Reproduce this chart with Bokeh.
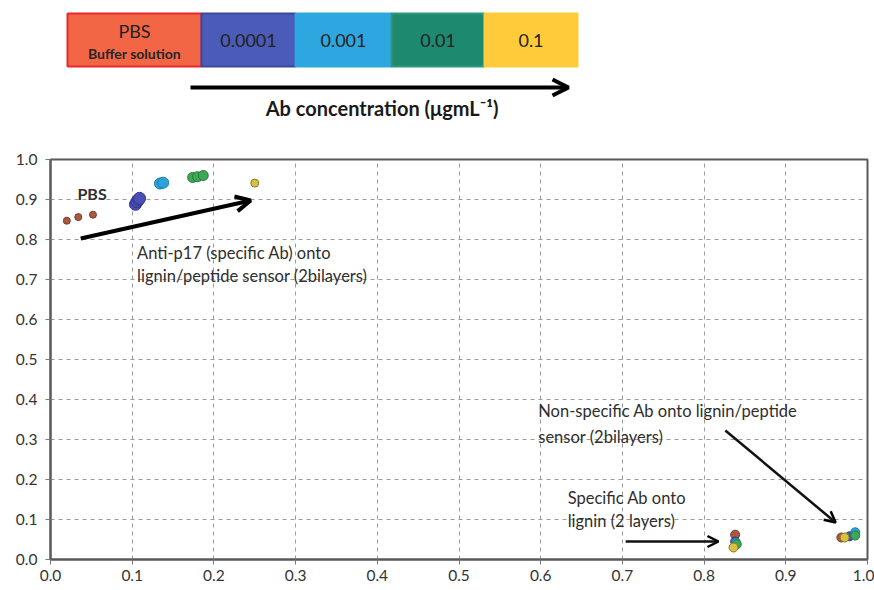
from bokeh.plotting import figure
from bokeh.layouts import column
from bokeh.models import (Range1d, FixedTicker, PrintfTickFormatter, Arrow, OpenHead,
                          ColumnDataSource, Label)
from bokeh.core.properties import value
from bokeh.embed import file_html
from bokeh.resources import INLINE

FONT = "Lato"

# ---------------- data ----------------
conc_labels = ["PBS", "0.0001", "0.001", "0.01", "0.1"]
conc_sub = ["Buffer solution", "", "", "", ""]
box_fill = ["#F26646", "#4A5BB8", "#2EA7E0", "#1D8A70", "#FFCB3A"]
box_line = ["#E8282A", "#3A48A0", "#2EA7E0", "#2A9A7A", "#FFCB3A"]
point_fill = ["#A85A40", "#4A4FB5", "#2AA3D8", "#3DA858", "#D8C048"]
point_line = ["#7A3A28", "#33378A", "#1A7FA8", "#2A7A3A", "#8A7A20"]

# anti-p17 onto lignin/peptide sensor (2 bilayers)
sens_x = [[0.020, 0.034, 0.052], [0.104, 0.106, 0.108, 0.109], [0.134, 0.138],
          [0.174, 0.180, 0.187], [0.250]]
sens_y = [[0.847, 0.856, 0.862], [0.888, 0.895, 0.900, 0.903], [0.940, 0.942],
          [0.955, 0.957, 0.960], [0.941]]
# specific Ab onto lignin (2 layers)
lig_x = [[0.838], [0.838], [0.839], [0.840], [0.836]]
lig_y = [[0.062], [0.045], [0.042], [0.038], [0.030]]
# non-specific Ab onto lignin/peptide sensor
nons_x = [[0.968], [0.978], [0.985], [0.985], [0.972]]
nons_y = [[0.055], [0.058], [0.068], [0.060], [0.055]]
point_size = [7, 12, 11, 10, 8]

x_ticks = [0.0, 0.1, 0.2, 0.3, 0.4, 0.5, 0.6, 0.7, 0.8, 0.9, 1.0]
y_ticks = [0.0, 0.1, 0.2, 0.3, 0.4, 0.5, 0.6, 0.7, 0.8, 0.9, 1.0]

W = 874
ML, MR = 50, 7

# ---------------- top legend strip ----------------
top = figure(width=W, height=140, x_range=Range1d(ML, W - MR), y_range=Range1d(140, 0),
             output_backend="svg", toolbar_location=None,
             min_border_left=ML, min_border_right=MR, min_border_top=0, min_border_bottom=0)
top.axis.visible = False
top.grid.visible = False
top.outline_line_color = None

edges = [67, 201, 295, 391, 484, 577]
lefts = edges[:-1]
rights = edges[1:]
cx = [(a + b) / 2 for a, b in zip(lefts, rights)]
src = ColumnDataSource(dict(left=lefts, right=rights, top=[13] * 5, bottom=[66] * 5,
                            fill=box_fill, line=box_line))
top.quad(left="left", right="right", top="top", bottom="bottom", fill_color="fill",
         line_color="line", line_width=2, source=src)
main_y = [30 if s else 40 for s in conc_sub]
src2 = ColumnDataSource(dict(x=cx, y=main_y, t=conc_labels))
top.text(x="x", y="y", text="t", source=src2, text_align="center", text_baseline="middle",
         text_font=value(FONT), text_font_size="18px", text_color="#222222")
src3 = ColumnDataSource(dict(x=cx, y=[53] * 5, t=conc_sub))
top.text(x="x", y="y", text="t", source=src3, text_align="center", text_baseline="middle",
         text_font=value(FONT), text_font_size="14px", text_color="#262626",
         text_font_style="bold")
top.add_layout(Arrow(end=OpenHead(size=16, line_width=4, line_color="black"),
                     x_start=190, y_start=87, x_end=568, y_end=87,
                     line_width=4, line_color="black"))
top.add_layout(Label(x=384, y=107, text="Ab concentration  (μgmL⁻¹)", text_align="center",
                     text_baseline="middle", text_font=FONT, text_font_size="20px",
                     text_font_style="bold", text_color="#1a1a1a"))

# ---------------- main chart ----------------
p = figure(width=W, height=450, x_range=Range1d(0, 1), y_range=Range1d(0, 1),
           output_backend="svg", toolbar_location=None,
           min_border_left=ML, min_border_right=MR, min_border_top=19, min_border_bottom=31)
p.background_fill_color = "white"
p.outline_line_color = "#595959"
p.outline_line_width = 2

for ax, ticks in ((p.xaxis, x_ticks), (p.yaxis, y_ticks)):
    ax.ticker = FixedTicker(ticks=ticks)
    ax.formatter = PrintfTickFormatter(format="%.1f")
    ax.major_label_text_font = FONT
    ax.major_label_text_font_size = "15.5px"
    ax.major_label_text_color = "#333333"
    ax.axis_line_color = "#595959"
    ax.axis_line_width = 2
    ax.major_tick_line_color = "#777777"
    ax.major_tick_in = 0
    ax.major_tick_out = 5
    ax.minor_tick_line_color = None
p.yaxis.major_label_standoff = 8

p.grid.grid_line_color = "#9a9a9a"
p.grid.grid_line_dash = "4 4"
p.grid.grid_line_width = 1
for g, ticks in ((p.xgrid, x_ticks), (p.ygrid, y_ticks)):
    g.ticker = FixedTicker(ticks=ticks)

# arrows
p.add_layout(Arrow(end=OpenHead(size=15, line_width=4, line_color="black"),
                   x_start=0.037, y_start=0.8025, x_end=0.245, y_end=0.8975,
                   line_width=4, line_color="black"))
p.add_layout(Arrow(end=OpenHead(size=11, line_width=2.5, line_color="black"),
                   x_start=0.826, y_start=0.3225, x_end=0.961, y_end=0.0925,
                   line_width=2.5, line_color="#111111"))
p.add_layout(Arrow(end=OpenHead(size=11, line_width=2.5, line_color="black"),
                   x_start=0.704, y_start=0.045, x_end=0.8176, y_end=0.045,
                   line_width=2.5, line_color="#111111"))

# points
for i in range(len(conc_labels)):
    for xs, ys in ((sens_x, sens_y), (lig_x, lig_y), (nons_x, nons_y)):
        p.scatter(xs[i], ys[i], size=point_size[i] if xs is sens_x else 9,
                  fill_color=point_fill[i], line_color=point_line[i], line_width=1)

# text annotations
def lab(x, y, t, bold=False, size="16.5px"):
    p.add_layout(Label(x=x, y=y, text=t, text_align="left", text_baseline="middle",
                       text_font=FONT, text_font_size=size,
                       text_font_style="bold" if bold else "normal",
                       text_color="#2e2e2e"))

lab(0.033, 0.915, "PBS", bold=True, size="16px")
lab(0.106, 0.7675, "Anti-p17 (specific Ab) onto")
lab(0.106, 0.710, "lignin/peptide sensor (2bilayers)")
lab(0.597, 0.3725, "Non-specific Ab onto lignin/peptide")
lab(0.597, 0.3075, "sensor (2bilayers)")
lab(0.633, 0.155, "Specific Ab onto")
lab(0.633, 0.0975, "lignin (2 layers)")

layout = column(top, p, spacing=0)
open("out.html", "w").write(file_html(layout, INLINE))
